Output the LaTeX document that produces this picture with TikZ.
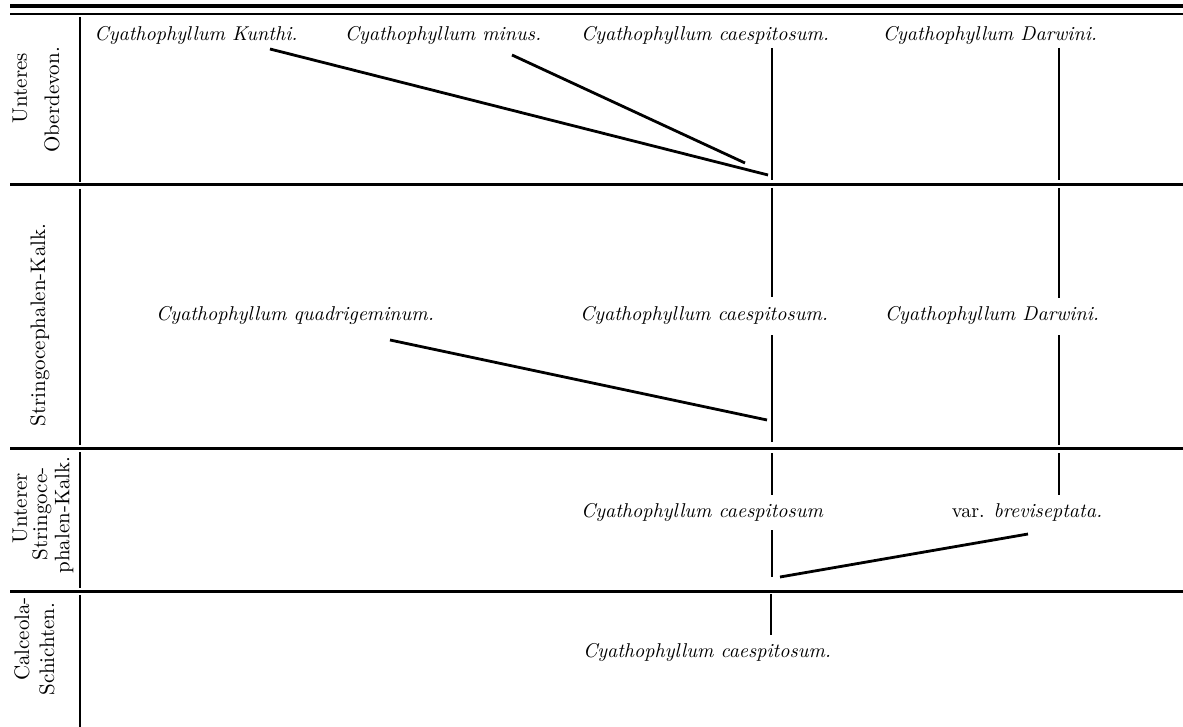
\documentclass[tikz,border=0pt]{standalone}
\usetikzlibrary{positioning}
\begin{document}
\begin{tikzpicture}[x=0.5pt,y=-0.5pt,
	rule/.style={line width=1.5pt},
	link/.style={line width=1.4pt},
	species/.style={font=\itshape, inner sep=0pt},
	stage/.style={rotate=90, font=\fontsize{10.5}{12}\selectfont, inner sep=0pt}]
	\useasboundingbox (0,0) rectangle (1183,727);
	
	% frame
	\draw[line width=2pt] (10,6) -- (1183,6);
	\draw[line width=0.8pt] (10,14) -- (1183,14);
	\draw[rule] (10,185) -- (1183,185);
	\draw[rule] (10,448) -- (1183,448);
	\draw[rule] (10,591) -- (1183,591);
	\draw[link] (80,17) -- (80,182);  \draw[link] (80,189) -- (80,445);
	\draw[link] (80,452) -- (80,588); \draw[link] (80,595) -- (80,727);
	
	% stages
	\node[stage] (unteres) at (20,88) {Unteres};
	\node[stage] (oberdevon) at (52,100) {Oberdevon.};
	\node[stage] (stringo) at (40,325) {Stringocephalen-Kalk.};
	\node[stage] (unterer) at (20,508) {Unterer};
	\node[stage] (stringoce) at (42,514) {Stringoce-};
	\node[stage] (phalen) at (64,515) {phalen-Kalk.};
	\node[stage] (calceola) at (22,639) {Calceola-};
	\node[stage] (schichten) at (47,649) {Schichten.};
	
	% species
	\node[species] (kunthi) at (196,36) {Cyathophyllum Kunthi.};
	\node[species] (minus) at (443,36) {Cyathophyllum minus.};
	\node[species] (caesp1) at (705,36) {Cyathophyllum caespitosum.};
	\node[species] (darwini1) at (990,36) {Cyathophyllum Darwini.};
	\node[species] (quadri) at (295,316) {Cyathophyllum quadrigeminum.};
	\node[species] (caesp2) at (704,316) {Cyathophyllum caespitosum.};
	\node[species] (darwini2) at (992,316) {Cyathophyllum Darwini.};
	\node[species] (caesp3) at (702,512) {Cyathophyllum caespitosum};
	\node[inner sep=0pt] (brevi) at (1027,512) {var. \textit{breviseptata.}};
	\node[species] (caesp4) at (707,652) {Cyathophyllum caespitosum.};
	
	% line ends
	\coordinate (k1) at (270,49);  \coordinate (k2) at (768,175);
	\coordinate (m1) at (512,55);  \coordinate (m2) at (745,163);
	\coordinate (q1) at (390,340); \coordinate (q2) at (767,420);
	\coordinate (b1) at (780,577); \coordinate (b2) at (1028,534);
	
	\coordinate (c1a) at (772,48);  \coordinate (c1b) at (772,180);
	\coordinate (c2a) at (772,188); \coordinate (c2b) at (772,297);
	\coordinate (c2c) at (772,335); \coordinate (c2d) at (772,442);
	\coordinate (c3a) at (772,453); \coordinate (c3b) at (772,495);
	\coordinate (c3c) at (772,530); \coordinate (c3d) at (772,577);
	\coordinate (c4a) at (771,594); \coordinate (c4b) at (771,635);
	
	\coordinate (d1a) at (1059,48);  \coordinate (d1b) at (1059,180);
	\coordinate (d2a) at (1059,188); \coordinate (d2b) at (1059,298);
	\coordinate (d2c) at (1059,335); \coordinate (d2d) at (1059,445);
	\coordinate (d3a) at (1059,453); \coordinate (d3b) at (1059,495);
	
	% lineages
	\draw[link] (k1) -- (k2);
	\draw[link] (m1) -- (m2);
	\draw[link] (q1) -- (q2);
	\draw[link] (b1) -- (b2);
	\draw[link] (c1a) -- (c1b); \draw[link] (c2a) -- (c2b); \draw[link] (c2c) -- (c2d);
	\draw[link] (c3a) -- (c3b); \draw[link] (c3c) -- (c3d); \draw[link] (c4a) -- (c4b);
	\draw[link] (d1a) -- (d1b); \draw[link] (d2a) -- (d2b); \draw[link] (d2c) -- (d2d);
	\draw[link] (d3a) -- (d3b);
	
\end{tikzpicture}
\end{document}
